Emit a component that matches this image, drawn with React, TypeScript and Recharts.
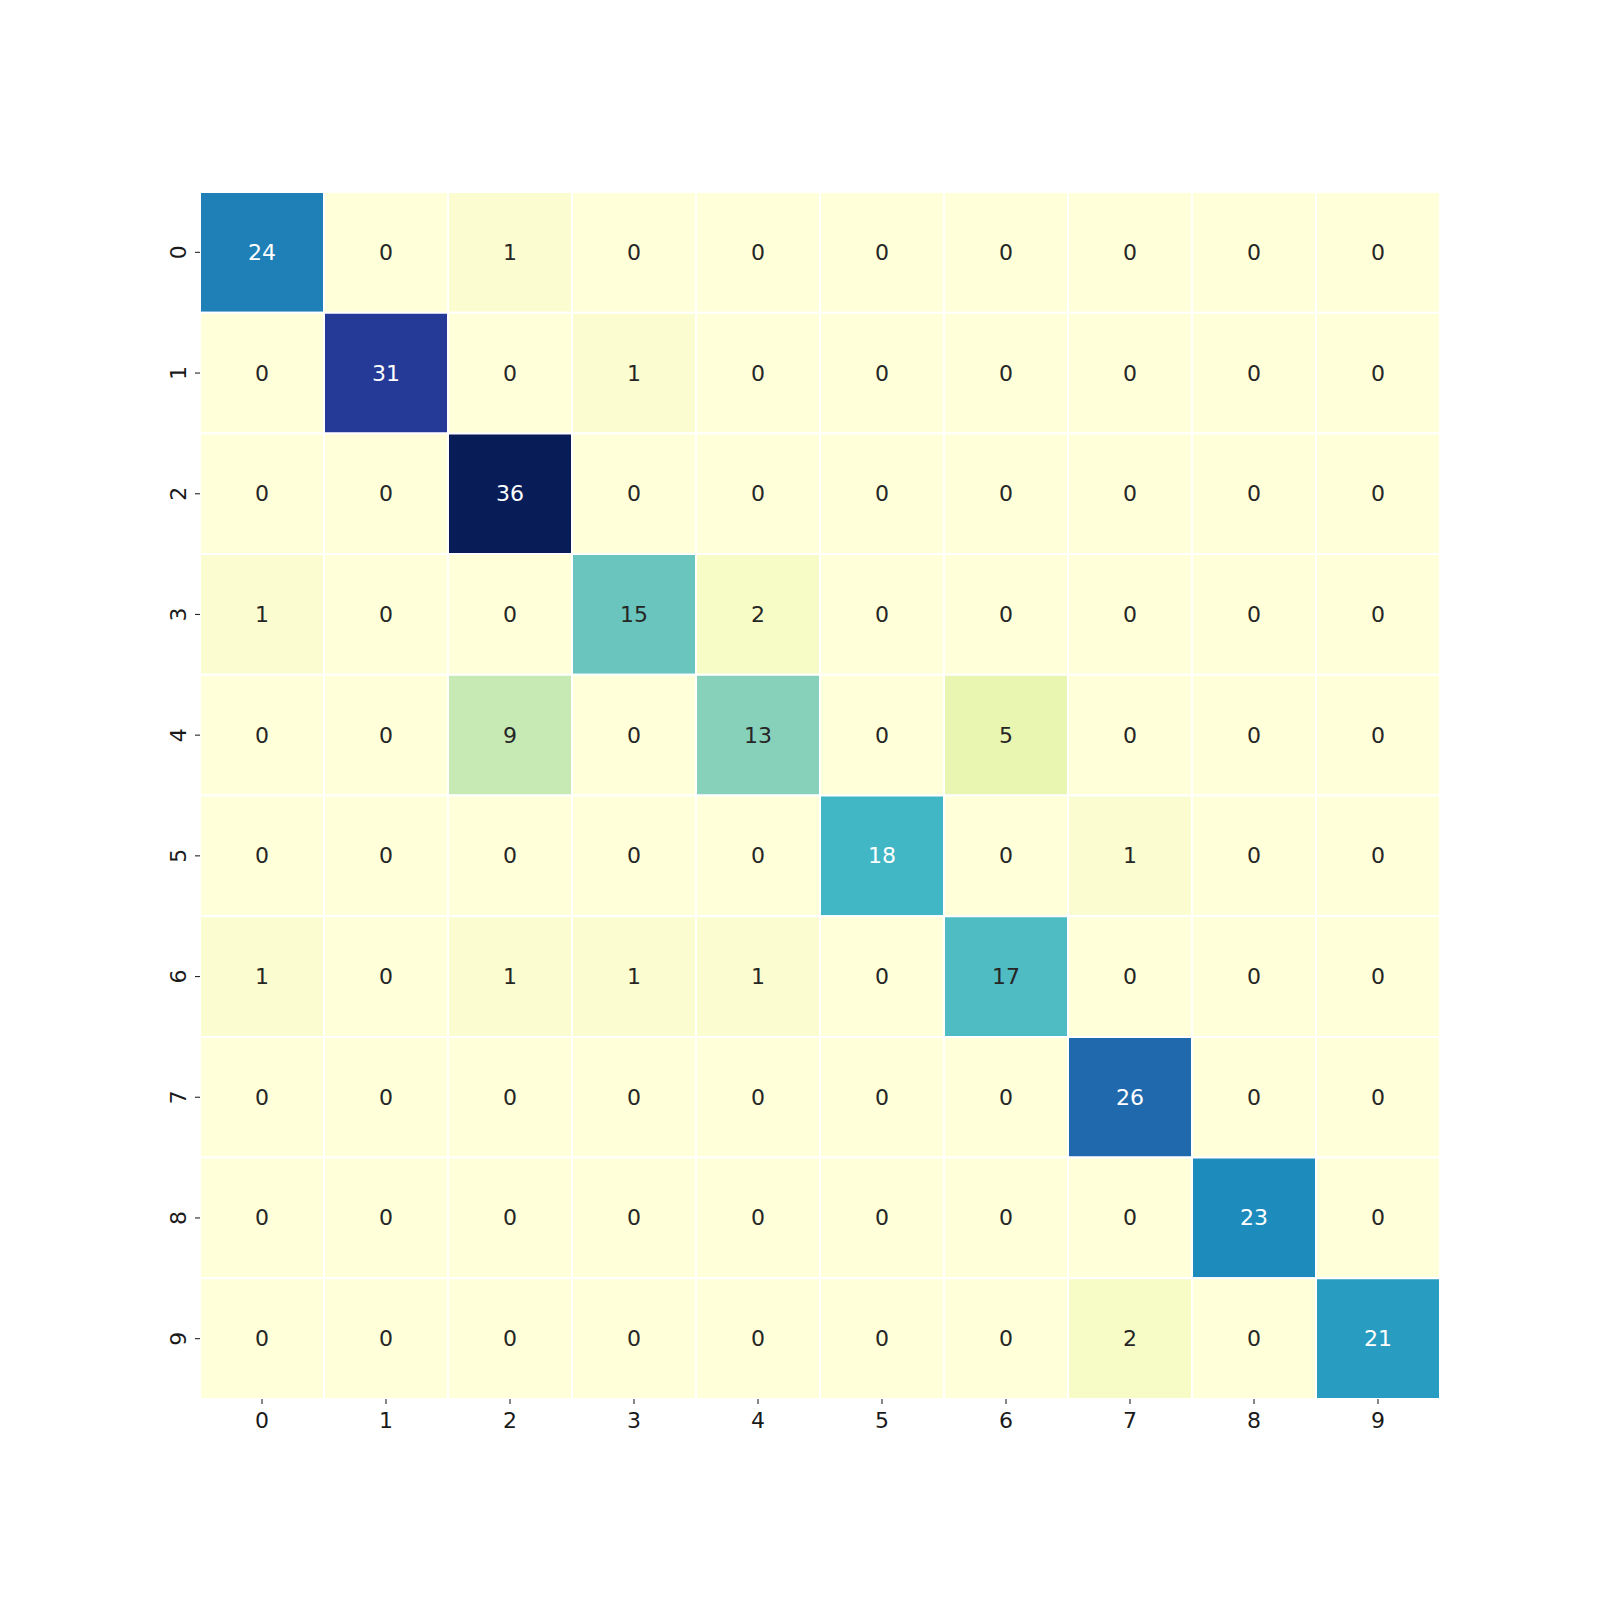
import React from 'react';
import { BarChart, Bar, XAxis, YAxis, Cell, LabelList } from 'recharts';

const labels = ['0', '1', '2', '3', '4', '5', '6', '7', '8', '9'];
const row0 = [24, 0, 1, 0, 0, 0, 0, 0, 0, 0];
const row1 = [0, 31, 0, 1, 0, 0, 0, 0, 0, 0];
const row2 = [0, 0, 36, 0, 0, 0, 0, 0, 0, 0];
const row3 = [1, 0, 0, 15, 2, 0, 0, 0, 0, 0];
const row4 = [0, 0, 9, 0, 13, 0, 5, 0, 0, 0];
const row5 = [0, 0, 0, 0, 0, 18, 0, 1, 0, 0];
const row6 = [1, 0, 1, 1, 1, 0, 17, 0, 0, 0];
const row7 = [0, 0, 0, 0, 0, 0, 0, 26, 0, 0];
const row8 = [0, 0, 0, 0, 0, 0, 0, 0, 23, 0];
const row9 = [0, 0, 0, 0, 0, 0, 0, 2, 0, 21];
const matrix = [row0, row1, row2, row3, row4, row5, row6, row7, row8, row9];

const YLGNBU = ['#ffffd9', '#edf8b1', '#c7e9b4', '#7fcdbb', '#41b6c4', '#1d91c0', '#225ea8', '#253494', '#081d58'];
const vmax = Math.max(...matrix.flat());

function hexToRgb(h: string) {
  return [parseInt(h.slice(1, 3), 16), parseInt(h.slice(3, 5), 16), parseInt(h.slice(5, 7), 16)];
}
function colorRgb(v: number) {
  const t = Math.max(0, Math.min(1, v / vmax)) * (YLGNBU.length - 1);
  const i = Math.min(Math.floor(t), YLGNBU.length - 2);
  const f = t - i;
  const a = hexToRgb(YLGNBU[i]);
  const b = hexToRgb(YLGNBU[i + 1]);
  return a.map((c, k) => Math.round(c + (b[k] - c) * f));
}
function colorOf(v: number) {
  const [r, g, b] = colorRgb(v);
  return `rgb(${r},${g},${b})`;
}
function textColorOf(v: number) {
  const lin = colorRgb(v).map((c) => {
    const s = c / 255;
    return s <= 0.03928 ? s / 12.92 : Math.pow((s + 0.055) / 1.055, 2.4);
  });
  const lum = 0.2126 * lin[0] + 0.7152 * lin[1] + 0.0722 * lin[2];
  return lum > 0.408 ? '#262626' : '#ffffff';
}

const data = labels.map((lab, c) => {
  const o: any = { col: lab };
  matrix.forEach((row, r) => {
    o[`r${r}`] = 1;
    o[`v${r}`] = row[c];
  });
  return o;
});

const FONT = 'DejaVu Sans, sans-serif';
const FS = 22;

const XTick = (props: any) => {
  const { x, y, payload } = props;
  return (
    <text x={x} y={y + 24} textAnchor="middle" fontFamily={FONT} fontSize={FS} fill="#1a1a1a">
      {payload.value}
    </text>
  );
};

const YTick = (props: any) => {
  const { x, y, payload } = props;
  const lab = labels[Math.round(payload.value - 0.5)];
  const bx = x - 9;
  return (
    <text x={bx} y={y} textAnchor="middle" fontFamily={FONT} fontSize={FS} fill="#1a1a1a" transform={`rotate(-90, ${bx}, ${y})`}>
      {lab}
    </text>
  );
};

export default function App() {
  return (
    <div style={{ position: 'absolute', left: 0, top: 0, width: 1600, height: 1600, background: '#fff' }}>
      <BarChart
        width={1600}
        height={1600}
        data={data}
        margin={{ top: 192, right: 160, left: 0, bottom: 0 }}
        barCategoryGap={0}
        barGap={0}
      >
        <XAxis
          dataKey="col"
          height={201}
          axisLine={false}
          tickLine={{ stroke: '#262626', strokeWidth: 1.1 }}
          tickSize={5}
          tickMargin={0}
          tick={<XTick />}
          interval={0}
        />
        <YAxis
          type="number"
          domain={[0, 10]}
          reversed
          ticks={[0.5, 1.5, 2.5, 3.5, 4.5, 5.5, 6.5, 7.5, 8.5, 9.5]}
          width={200}
          axisLine={false}
          tickLine={{ stroke: '#262626', strokeWidth: 1.1 }}
          tickSize={5}
          tickMargin={0}
          tick={<YTick />}
          interval={0}
          allowDataOverflow
        />
        {matrix.map((row, r) => (
          <Bar key={r} dataKey={`r${r}`} stackId="a" isAnimationActive={false} stroke="#ffffff" strokeWidth={2}>
            {row.map((v, c) => (
              <Cell key={c} fill={colorOf(v)} />
            ))}
            <LabelList
              dataKey={`v${r}`}
              content={(p: any) => {
                const v = Number(p.value);
                return (
                  <text
                    x={p.x + p.width / 2}
                    y={p.y + p.height / 2}
                    textAnchor="middle"
                    dominantBaseline="central"
                    fontFamily={FONT}
                    fontSize={FS}
                    fill={textColorOf(v)}
                  >
                    {v}
                  </text>
                );
              }}
            />
          </Bar>
        ))}
      </BarChart>
    </div>
  );
}
